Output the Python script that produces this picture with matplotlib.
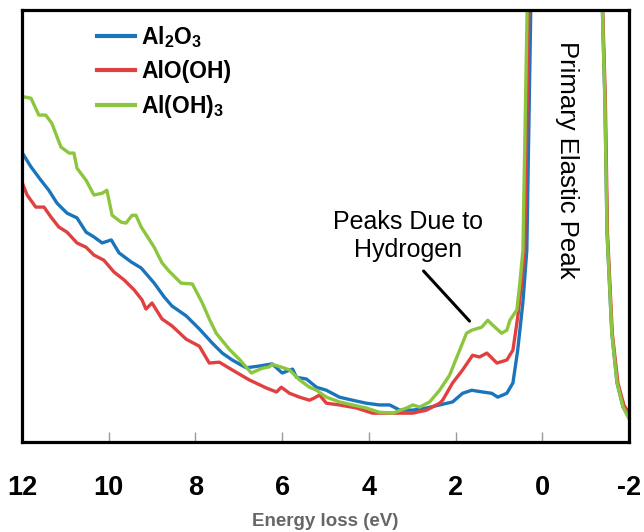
import numpy as np
import matplotlib
matplotlib.use("Agg")
import matplotlib.pyplot as plt

plt.rcParams['font.family'] = ['Liberation Sans', 'DejaVu Sans']
plt.rcParams['mathtext.fontset'] = 'custom'
plt.rcParams['mathtext.rm'] = 'Liberation Sans:bold'
plt.rcParams['mathtext.bf'] = 'Liberation Sans:bold'
plt.rcParams['mathtext.default'] = 'bf'

# energy loss (eV) and intensity (arb. units, 0 = axis bottom, 100 = axis top)
al2o3_e = [12.00, 11.79, 11.56, 11.38, 11.19, 10.96, 10.73, 10.52, 10.34, 10.15, 9.94, 9.76,
           9.48, 9.25, 8.95, 8.72, 8.54, 8.21, 7.91, 7.61, 7.38, 7.15, 6.83, 6.53, 6.23, 6.00,
           5.76, 5.67, 5.44, 5.21, 4.98, 4.68, 4.38, 4.06, 3.76, 3.52, 3.29, 2.99, 2.67, 2.37,
           2.07, 1.84, 1.63, 1.38, 1.17, 1.03, 0.82, 0.68, 0.57, 0.45, 0.36, 0.22, -0.50,
           -1.30, -1.44, -1.49, -1.60, -1.72, -1.86, -2.00]
al2o3_i = [67.1, 63.7, 60.6, 58.3, 55.3, 53.0, 51.9, 48.6, 47.5, 46.1, 46.8, 43.8,
           41.7, 40.3, 36.8, 33.6, 31.5, 29.2, 26.2, 22.9, 20.6, 19.0, 17.2, 17.6, 18.1, 16.0,
           16.9, 15.0, 14.6, 12.7, 12.0, 10.4, 9.7, 9.0, 8.6, 8.6, 7.4, 7.4, 7.9, 8.6,
           9.3, 11.3, 12.0, 11.6, 11.3, 10.4, 11.3, 13.7, 21.3, 32.4, 44.4, 130, 400,
           130, 79.2, 48.4, 25.2, 13.7, 8.1, 5.8]

aloh_e = [12.00, 11.88, 11.68, 11.49, 11.33, 11.15, 10.96, 10.73, 10.52, 10.34, 10.11, 9.88,
          9.64, 9.41, 9.23, 9.14, 9.00, 8.77, 8.54, 8.21, 7.91, 7.68, 7.45, 7.15, 6.76, 6.36,
          6.13, 6.02, 5.83, 5.60, 5.37, 5.26, 5.14, 4.98, 4.68, 4.29, 3.92, 3.59, 3.29, 2.99,
          2.67, 2.37, 2.30, 2.07, 1.84, 1.61, 1.45, 1.28, 1.05, 0.82, 0.68, 0.57, 0.48, 0.41,
          0.26, -0.50, -1.30, -1.45, -1.50, -1.61, -1.74, -1.88, -2.00]
aloh_i = [60.2, 57.2, 54.4, 54.4, 52.1, 49.8, 48.6, 46.1, 45.1, 43.3, 42.1, 39.4,
          37.5, 35.2, 32.9, 30.8, 32.2, 28.5, 26.9, 23.8, 22.2, 18.3, 18.5, 16.7, 14.4, 12.5,
          11.6, 12.7, 11.3, 10.4, 9.7, 10.2, 10.9, 9.0, 8.6, 7.9, 6.7, 6.7, 6.7, 6.7,
          7.4, 9.0, 9.7, 13.7, 16.7, 20.1, 19.7, 20.6, 18.3, 19.0, 21.3, 28.9, 36.8, 44.4,
          130, 400, 130, 79.5, 48.4, 25.2, 13.7, 8.5, 6.7]

aloh3_e = [11.95, 11.79, 11.61, 11.45, 11.31, 11.10, 10.91, 10.80, 10.73, 10.52, 10.34, 10.15,
           10.04, 9.92, 9.71, 9.60, 9.46, 9.37, 9.25, 8.95, 8.77, 8.61, 8.33, 8.07, 7.84, 7.68,
           7.52, 7.22, 6.99, 6.71, 6.46, 6.30, 6.23, 6.00, 5.83, 5.60, 5.37, 5.21, 4.98, 4.68,
           4.38, 4.06, 3.76, 3.45, 3.13, 2.99, 2.83, 2.60, 2.37, 2.14, 2.00, 1.75, 1.63, 1.40,
           1.26, 1.15, 0.94, 0.82, 0.75, 0.59, 0.52, 0.45, 0.30, -0.50,
           -1.30, -1.44, -1.49, -1.60, -1.72, -1.86, -2.00]
aloh3_i = [79.9, 79.6, 75.7, 75.7, 73.8, 68.3, 66.9, 66.9, 63.4, 60.6, 57.2, 57.6,
           58.3, 52.5, 50.9, 50.7, 52.5, 52.5, 49.8, 45.1, 41.5, 39.6, 36.8, 36.6, 32.2, 28.5,
           25.2, 21.5, 19.2, 16.0, 17.1, 17.4, 18.0, 17.3, 16.7, 14.4, 12.7, 12.0, 10.4, 9.3,
           8.6, 7.9, 6.9, 6.7, 7.9, 8.6, 8.1, 9.3, 12.0, 15.5, 19.0, 25.2, 25.9, 26.6,
           28.2, 27.1, 25.2, 25.9, 28.2, 30.6, 36.8, 44.4, 130, 400,
           130, 79.2, 48.4, 25.2, 13.7, 8.1, 5.3]

labels = ['Al$_2$O$_3$', 'AlO(OH)', 'Al(OH)$_3$']
colors = ['#1b75bb', '#e0403f', '#8cc63e']
xticks = [12, 10, 8, 6, 4, 2, 0, -2]

fig = plt.figure(figsize=(6.44, 5.32), dpi=100)
ax = fig.add_axes([0.034, 0.169, 0.943, 0.812])

ax.plot(al2o3_e, al2o3_i, color=colors[0], lw=2.4, label=labels[0])
ax.plot(aloh_e, aloh_i, color=colors[1], lw=2.4, label=labels[1])
ax.plot(aloh3_e, aloh3_i, color=colors[2], lw=2.4, label=labels[2])

ax.set_xlim(12, -2)
ax.set_ylim(0, 100)
ax.set_yticks([])
ax.set_xticks(xticks)
ax.set_xticklabels([str(t) for t in xticks], fontsize=19.5, fontweight='bold')
ax.tick_params(axis='x', direction='in', length=7, width=1, color='#999999', pad=24)
for s in ax.spines.values():
    s.set_linewidth(2.3)
    s.set_color('black')

ax.set_xlabel('Energy loss (eV)', fontsize=13.5, fontweight='bold', color='#666666', labelpad=8)

leg = ax.legend(loc='upper left', bbox_to_anchor=(0.124, 0.968), frameon=False,
                handlelength=1.65, handletextpad=0.27, labelspacing=0.45,
                borderpad=0, borderaxespad=0, prop={'size': 16.5, 'weight': 'bold'})
for line in leg.get_lines():
    line.set_linewidth(3)

ax.text(3.09, 47.7, 'Peaks Due to\nHydrogen', ha='center', va='center',
        fontsize=18, linespacing=1.25)
ax.annotate('', xy=(1.68, 28.0), xytext=(2.74, 39.6),
            arrowprops=dict(arrowstyle='-', lw=2.2, color='black',
                            shrinkA=0, shrinkB=0))
ax.text(-0.56, 65.3, 'Primary Elastic Peak', rotation=-90, ha='center', va='center',
        fontsize=18.5)

fig.savefig('out.png', dpi=100)
